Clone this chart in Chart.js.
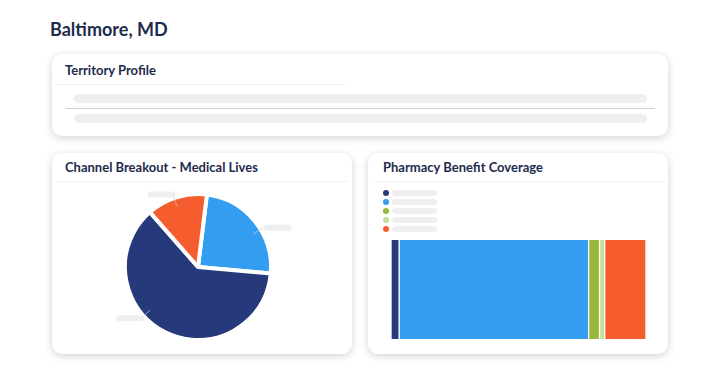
<!DOCTYPE html>
<html>
<head>
<meta charset="utf-8">
<script src="https://cdn.jsdelivr.net/npm/chart.js@4.4.0/dist/chart.umd.min.js"></script>
<style>
  body { margin: 0; background: #fff; font-family: Lato, "Open Sans", sans-serif; }
  .title { position: absolute; left: 50px; top: 18px; font-size: 18px; font-weight: 700; color: #1d2b4d; }
  .card { position: absolute; background: #fff; border-radius: 10px; box-shadow: 0 2px 8px rgba(0,0,0,0.18); }
  .card h3 { position: absolute; margin: 0; font-size: 13px; font-weight: 700; color: #1d2b4d; }
  .rule { position: absolute; height: 1px; background: #f1f1f1; }
  .skel { position: absolute; background: #efefef; border-radius: 5px; }
  canvas { position: absolute; }
</style>
</head>
<body>
<div class="title">Baltimore, MD</div>

<div class="card" style="left:52px;top:54px;width:616px;height:82px;">
  <h3 style="left:13px;top:8px;">Territory Profile</h3>
  <div class="rule" style="left:3px;top:30px;width:290px;"></div>
  <div class="skel" style="left:22px;top:40px;width:573px;height:9px;"></div>
  <div class="rule" style="left:14px;top:54px;width:589px;background:#cfcfcf;"></div>
  <div class="skel" style="left:22px;top:60px;width:573px;height:9px;"></div>
</div>

<div class="card" style="left:52px;top:153px;width:300px;height:201px;">
  <h3 style="left:13px;top:6px;">Channel Breakout - Medical Lives</h3>
  <div class="rule" style="left:4px;top:28px;width:292px;"></div>
</div>

<div class="card" style="left:368px;top:153px;width:300px;height:201px;">
  <h3 style="left:15px;top:6px;">Pharmacy Benefit Coverage</h3>
  <div class="rule" style="left:5px;top:28px;width:292px;"></div>
</div>

<canvas id="pie" style="left:52px;top:183px;" width="300" height="170"></canvas>
<canvas id="bar" style="left:368px;top:183px;" width="300" height="170"></canvas>

<script>
// Channel Breakout - Medical Lives (clockwise from top)
const channelLabels = ['Commercial', 'Medicare', 'Medicaid'];
const channelValues = [24.5, 62.1, 13.4];
const channelColors = ['#339df0', '#26397a', '#f65d2e'];

// Pharmacy Benefit Coverage (percent of lives)
const pharmLabels = ['Cash', 'Commercial', 'Medicare Part D', 'Medicaid', 'Other'];
const pharmValues = [3.2, 74.3, 4.3, 2.0, 16.2];
const pharmColors = ['#26397a', '#339df0', '#97b83a', '#c5dc95', '#f65d2e'];

function skel(ctx, x, y, w, h) {
  ctx.fillStyle = '#efefef';
  ctx.beginPath();
  ctx.roundRect(x, y, w, h, h / 2);
  ctx.fill();
}

// grey leader lines + placeholder labels around the pie
const pieLabels = {
  id: 'pieLabels',
  afterDatasetsDraw(chart, args, opts) {
    const ctx = chart.ctx;
    chart.getDatasetMeta(0).data.forEach((arc, i) => {
      const p = arc.getProps(['x', 'y', 'startAngle', 'endAngle', 'outerRadius']);
      const a = (p.startAngle + p.endAngle) / 2 + (opts.shift[i] || 0) * Math.PI / 180;
      const x1 = p.x + Math.cos(a) * p.outerRadius * 0.88;
      const y1 = p.y + Math.sin(a) * p.outerRadius * 0.88;
      const x2 = p.x + Math.cos(a) * p.outerRadius * 1.05;
      const y2 = p.y + Math.sin(a) * p.outerRadius * 1.05;
      ctx.strokeStyle = '#c8c8c8';
      ctx.lineWidth = 0.7;
      ctx.beginPath();
      ctx.moveTo(x1, y1);
      ctx.lineTo(x2, y2);
      ctx.stroke();
      const w = 28;
      skel(ctx, x2 < p.x ? x2 - w + 3 : x2, y2 - 3, w, 6);
    });
  }
};

new Chart(document.getElementById('pie'), {
  type: 'pie',
  data: {
    labels: channelLabels,
    datasets: [{
      data: channelValues,
      backgroundColor: channelColors,
      borderColor: '#fff',
      borderWidth: 4
    }]
  },
  options: {
    responsive: false,
    animation: false,
    rotation: 7,
    radius: 73,
    layout: { padding: { left: 0, right: 8, top: 0, bottom: 2 } },
    plugins: {
      legend: { display: false },
      tooltip: { enabled: false },
      pieLabels: { shift: [8, 21, -2] }
    }
  },
  plugins: [pieLabels]
});

// dot legend with placeholder text bars
const dotLegend = {
  id: 'dotLegend',
  afterDraw(chart) {
    const ctx = chart.ctx;
    chart.data.datasets.forEach((ds, i) => {
      const y = 10 + i * 9;
      ctx.fillStyle = ds.backgroundColor;
      ctx.beginPath();
      ctx.arc(18, y, 3, 0, Math.PI * 2);
      ctx.fill();
      skel(ctx, 24, y - 3, 45, 6);
    });
  }
};

new Chart(document.getElementById('bar'), {
  type: 'bar',
  data: {
    labels: ['Coverage'],
    datasets: pharmLabels.map((l, i) => ({
      label: l,
      data: [pharmValues[i]],
      backgroundColor: pharmColors[i],
      borderColor: '#fff',
      borderWidth: { left: 1, right: 1, top: 0, bottom: 0 },
      borderSkipped: false,
      barPercentage: 1,
      categoryPercentage: 1
    }))
  },
  options: {
    responsive: false,
    animation: false,
    indexAxis: 'y',
    layout: { padding: { left: 23, right: 22, top: 57, bottom: 14 } },
    scales: {
      x: { stacked: true, display: false, min: 0, max: 100 },
      y: { stacked: true, display: false }
    },
    plugins: { legend: { display: false }, tooltip: { enabled: false } }
  },
  plugins: [dotLegend]
});
</script>
</body>
</html>
